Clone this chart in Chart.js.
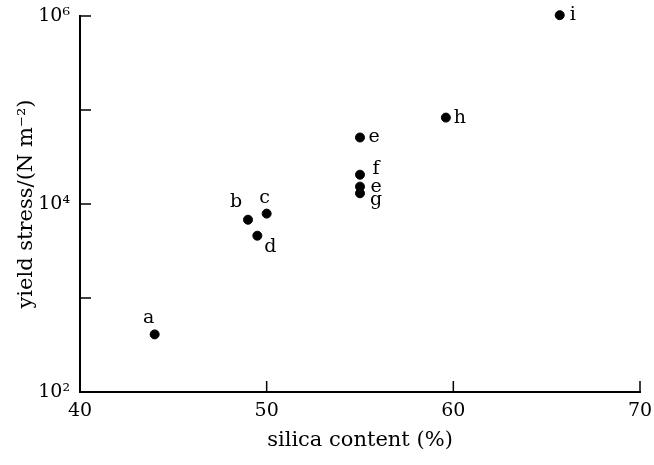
<!DOCTYPE html>
<html>
<head>
<meta charset="utf-8">
<script src="https://cdn.jsdelivr.net/npm/chart.js@4.4.0/dist/chart.umd.min.js"></script>
<style>
  html, body { margin: 0; padding: 0; background: #fff; }
  #wrap { width: 654px; height: 465px; }
</style>
</head>
<body>
<div id="wrap"><canvas id="canvas"></canvas></div>
<script>
// values
var pointNames = ['a', 'b', 'c', 'd', 'e', 'f', 'e', 'g', 'h', 'i'];
var silica = [44, 49, 50, 49.5, 55, 55, 55, 55, 59.6, 65.7];
var stress = [410, 6800, 7900, 4600, 51000, 20500, 15300, 13000, 83000, 1020000];
var xTicks = [40, 50, 60, 70];
var yTicks = [1e2, 1e3, 1e4, 1e5, 1e6];
var supDigits = {'2': '\u00b2', '4': '\u2074', '6': '\u2076'};

var FONT = '"DejaVu Serif", serif';

var points = [];
for (var i = 0; i < silica.length; i++) {
    points.push({x: silica[i], y: stress[i]});
}

// label offsets from the dot (px), just so letters sit where they do in the print
var labelShift = [[-6, -16], [-12, -18], [-2, -16], [13, 11], [14, 0],
                  [16, -6], [16, 0], [16, 7], [14, 0], [13, 0]];

var pointLabels = {
    id: 'pointLabels',
    afterDatasetsDraw: function(chart) {
        var ctx = chart.ctx;
        var meta = chart.getDatasetMeta(0);
        ctx.save();
        ctx.fillStyle = '#000';
        ctx.font = '19px ' + FONT;
        ctx.textAlign = 'center';
        ctx.textBaseline = 'middle';
        meta.data.forEach(function(el, k) {
            ctx.fillText(pointNames[k], el.x + labelShift[k][0], el.y + labelShift[k][1]);
        });
        ctx.restore();
    }
};

// inward tick marks
var innerTicks = {
    id: 'innerTicks',
    afterDraw: function(chart) {
        var ctx = chart.ctx;
        var xs = chart.scales.x, ys = chart.scales.y;
        var area = chart.chartArea;
        ctx.save();
        ctx.strokeStyle = '#000';
        ctx.lineWidth = 1.5;
        ctx.beginPath();
        yTicks.forEach(function(v) {
            var py = ys.getPixelForValue(v);
            ctx.moveTo(area.left, py);
            ctx.lineTo(area.left + 11, py);
        });
        xTicks.forEach(function(v) {
            var px = xs.getPixelForValue(v);
            ctx.moveTo(px, area.bottom);
            ctx.lineTo(px, area.bottom - 11);
        });
        ctx.stroke();
        ctx.restore();
    }
};

var ctx = document.getElementById('canvas');

var chart = new Chart(ctx, {
    type: 'scatter',
    data: {
        datasets: [{
            label: 'yield stress',
            data: points,
            backgroundColor: '#000',
            borderColor: '#000',
            pointRadius: 4.5,
            pointHoverRadius: 4.5,
            clip: false
        }]
    },
    options: {
        responsive: true,
        maintainAspectRatio: false,
        animation: false,
        layout: {
            padding: {left: 0, right: 14, top: 16, bottom: 0}
        },
        plugins: {
            legend: {display: false},
            tooltip: {enabled: false}
        },
        scales: {
            x: {
                type: 'linear',
                min: 40,
                max: 70,
                afterBuildTicks: function(scale) {
                    scale.ticks = xTicks.map(function(v) { return {value: v}; });
                },
                afterFit: function(scale) { scale.height = 73; },
                grid: {display: false},
                border: {display: true, color: '#000', width: 2},
                ticks: {
                    color: '#000',
                    font: {family: FONT, size: 19},
                    padding: 0,
                    maxRotation: 0
                },
                title: {
                    display: true,
                    text: 'silica content (%)',
                    color: '#000',
                    font: {family: FONT, size: 21},
                    padding: {top: 0, bottom: 12}
                }
            },
            y: {
                type: 'logarithmic',
                min: 1e2,
                max: 1e6,
                afterBuildTicks: function(scale) {
                    scale.ticks = yTicks.map(function(v) { return {value: v}; });
                },
                afterFit: function(scale) { scale.width = 80; },
                grid: {display: false},
                border: {display: true, color: '#000', width: 2},
                ticks: {
                    color: '#000',
                    font: {family: FONT, size: 19},
                    padding: 2,
                    callback: function(v) {
                        var e = Math.round(Math.log10(v));
                        if (e % 2 !== 0) return '';
                        return '10' + supDigits[String(e)];
                    }
                },
                title: {
                    display: true,
                    text: 'yield stress/(N m\u207b\u00b2)',
                    color: '#000',
                    font: {family: FONT, size: 21},
                    padding: {top: 14, bottom: 0}
                }
            }
        }
    },
    plugins: [pointLabels, innerTicks]
});
</script>
</body>
</html>
